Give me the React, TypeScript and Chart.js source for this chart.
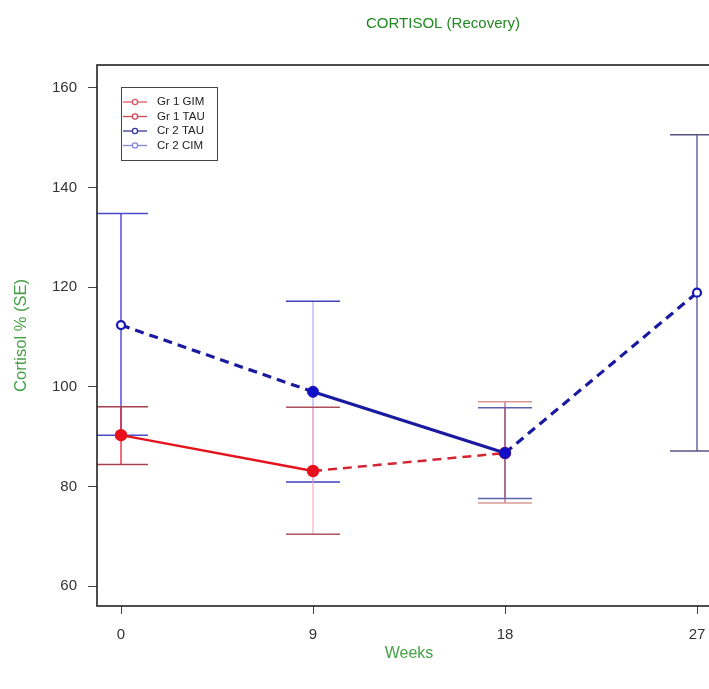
import { useEffect, useRef } from 'react';
import { Chart, registerables } from 'chart.js';

Chart.register(...registerables);

// ---- data ----
const weeks = [0, 9, 18, 27];
const weekLabels = ['0', '9', '18', '27'];
const yTicks = [60, 80, 100, 120, 140, 160];

const gr1Mean = [90.3, 83.1, 86.7];
const gr1Low = [84.4, 70.4, 76.7];
const gr1High = [96.0, 95.9, 97.0];

const gr2Mean = [112.4, 99.0, 86.7, 118.9];
const gr2Low = [90.3, 80.9, 77.6, 87.1];
const gr2High = [134.8, 117.2, 95.8, 150.6];

const legendLabels = ['Gr 1 GIM', 'Gr 1 TAU', 'Cr 2 TAU', 'Cr 2 CIM'];
const chartTitle = 'CORTISOL (Recovery)';
const xTitle = 'Weeks';
const yTitle = 'Cortisol % (SE)';

// ---- styles ----
const FONT = "'Liberation Sans', Arial, Helvetica, sans-serif";
const RED = '#e4141e';
const RED_DASH = '#d42434';
const BLUE = '#1a1aa0';
const gr1Dashed = [1];
const gr2Dashed = [0, 2];
const gr2Open = [0, 3];

// full (uncropped) figure is wider than the visible 709px window
const CANVAS_W = 862;
const CANVAS_H = 689;

const errStyle = {
  gr2Stem: ['rgba(70,70,215,0.95)', 'rgba(160,160,235,0.7)', 'rgba(120,90,170,0.85)', 'rgba(95,95,160,0.95)'],
  gr2Cap: ['#4a4acb', '#4040bb', '#5a62b0', '#55557f'],
  gr1Stem: ['rgba(228,40,60,0.9)', 'rgba(240,165,175,0.7)', 'rgba(170,80,120,0.75)'],
  gr1Cap: ['#a8404e', '#b0505e', '#d89898'],
};

const errorBarsPlugin = {
  id: 'errorBars',
  beforeDatasetsDraw(chart: any) {
    const { ctx, chartArea, scales } = chart;
    const xs = scales.x;
    const ys = scales.y;
    const half = 27;
    ctx.save();
    ctx.beginPath();
    ctx.rect(chartArea.left, chartArea.top, chartArea.right - chartArea.left, chartArea.bottom - chartArea.top);
    ctx.clip();
    ctx.lineWidth = 1.5;
    const seg = (x1: number, y1: number, x2: number, y2: number, c: string) => {
      ctx.strokeStyle = c;
      ctx.beginPath();
      ctx.moveTo(x1, y1);
      ctx.lineTo(x2, y2);
      ctx.stroke();
    };
    const bar = (w: number, lo: number, hi: number, stem: string, cap: string) => {
      const x = xs.getPixelForValue(w);
      const yl = ys.getPixelForValue(lo);
      const yh = ys.getPixelForValue(hi);
      seg(x, yl, x, yh, stem);
      seg(x - half, yl, x + half, yl, cap);
      seg(x - half, yh, x + half, yh, cap);
    };
    gr2Low.forEach((lo, i) => bar(weeks[i], lo, gr2High[i], errStyle.gr2Stem[i], errStyle.gr2Cap[i]));
    gr1Low.forEach((lo, i) => bar(weeks[i], lo, gr1High[i], errStyle.gr1Stem[i], errStyle.gr1Cap[i]));
    ctx.restore();
  },
};

const decorPlugin = {
  id: 'decor',
  afterDraw(chart: any) {
    const { ctx, chartArea } = chart;
    ctx.save();
    // plot box
    ctx.strokeStyle = '#222';
    ctx.lineWidth = 1.6;
    ctx.strokeRect(chartArea.left, chartArea.top, chartArea.right - chartArea.left, chartArea.bottom - chartArea.top);

    // title
    ctx.fillStyle = '#1f8a1f';
    ctx.font = `15px ${FONT}`;
    ctx.textAlign = 'center';
    ctx.textBaseline = 'middle';
    ctx.fillText(chartTitle, 443, 24);

    // legend
    const bx = 121, by = 87, bw = 96, bh = 73;
    ctx.fillStyle = '#fff';
    ctx.fillRect(bx, by, bw, bh);
    ctx.strokeStyle = '#444';
    ctx.lineWidth = 1;
    ctx.strokeRect(bx + 0.5, by + 0.5, bw, bh);
    const cols = ['#e05868', '#d04454', '#3636a0', '#8686dc'];
    legendLabels.forEach((lab, i) => {
      const yy = by + 15 + i * 14.5;
      ctx.strokeStyle = cols[i];
      ctx.lineWidth = 1.3;
      ctx.beginPath();
      ctx.moveTo(bx + 2, yy);
      ctx.lineTo(bx + 26, yy);
      ctx.stroke();
      ctx.fillStyle = '#fff';
      ctx.beginPath();
      ctx.arc(bx + 14, yy, 2.6, 0, Math.PI * 2);
      ctx.fill();
      ctx.stroke();
      ctx.fillStyle = '#222';
      ctx.font = `11.5px ${FONT}`;
      ctx.textAlign = 'left';
      ctx.textBaseline = 'middle';
      ctx.fillText(lab, bx + 36, yy);
    });
    ctx.restore();
  },
};

export default function App() {
  const ref = useRef<HTMLCanvasElement | null>(null);

  useEffect(() => {
    if (!ref.current) return;
    document.body.style.margin = '0';
    const chart = new Chart(ref.current, {
      type: 'line',
      data: {
        datasets: [
          {
            label: 'Gr 2',
            data: gr2Mean.map((v, i) => ({ x: weeks[i], y: v })),
            borderColor: BLUE,
            borderWidth: 3.2,
            pointRadius: (c: any) => (gr2Open.includes(c.dataIndex) ? 4 : 5.5),
            pointBorderWidth: (c: any) => (gr2Open.includes(c.dataIndex) ? 2.2 : 1),
            pointBackgroundColor: (c: any) => (gr2Open.includes(c.dataIndex) ? '#ffffff' : '#1010c8'),
            pointBorderColor: '#1818b8',
            segment: {
              borderDash: (c: any) => (gr2Dashed.includes(c.p0DataIndex) ? [9, 6] : undefined),
            },
            order: 0,
          },
          {
            label: 'Gr 1',
            data: gr1Mean.map((v, i) => ({ x: weeks[i], y: v })),
            borderColor: RED,
            borderWidth: 2.5,
            pointRadius: 5,
            pointBackgroundColor: '#e8101c',
            pointBorderColor: '#e8101c',
            segment: {
              borderDash: (c: any) => (gr1Dashed.includes(c.p0DataIndex) ? [9, 6] : undefined),
              borderColor: (c: any) => (gr1Dashed.includes(c.p0DataIndex) ? RED_DASH : RED),
            },
            order: 1,
          },
        ],
      },
      options: {
        animation: false,
        responsive: false,
        layout: { padding: { top: 65, left: 0, right: CANVAS_W - 721, bottom: 0 } },
        plugins: {
          legend: { display: false },
          title: { display: false },
          tooltip: { enabled: false },
        },
        scales: {
          x: {
            type: 'linear',
            min: -1.125,
            max: 28.125,
            afterBuildTicks: (s: any) => {
              s.ticks = weeks.map((v) => ({ value: v }));
            },
            afterFit: (s: any) => {
              s.height = 83;
            },
            ticks: {
              callback: (_v: any, i: number) => weekLabels[i],
              color: '#333',
              font: { size: 15, family: FONT },
              padding: 12,
              maxRotation: 0,
              autoSkip: false,
            },
            grid: { drawOnChartArea: false, drawTicks: true, tickLength: 8, tickColor: '#444' },
            border: { display: false },
            title: {
              display: true,
              text: xTitle,
              color: '#46a046',
              font: { size: 16, family: FONT },
              padding: { top: 0, bottom: 26 },
            },
          },
          y: {
            type: 'linear',
            min: 56,
            max: 164.6,
            afterBuildTicks: (s: any) => {
              s.ticks = yTicks.map((v) => ({ value: v }));
            },
            afterFit: (s: any) => {
              s.width = 97;
            },
            ticks: {
              color: '#333',
              font: { size: 15, family: FONT },
              padding: 11,
            },
            grid: { drawOnChartArea: false, drawTicks: true, tickLength: 9, tickColor: '#444' },
            border: { display: false },
            title: {
              display: true,
              text: yTitle,
              color: '#46a046',
              font: { size: 16.5, family: FONT },
              padding: { top: 12, bottom: 0 },
            },
          },
        },
      },
      plugins: [errorBarsPlugin, decorPlugin],
    } as any);
    return () => chart.destroy();
  }, []);

  return (
    <div style={{ position: 'fixed', left: 0, top: 0, width: 709, height: 689, overflow: 'hidden', background: '#fff' }}>
      <canvas ref={ref} width={CANVAS_W} height={CANVAS_H} style={{ display: 'block' }} />
    </div>
  );
}
